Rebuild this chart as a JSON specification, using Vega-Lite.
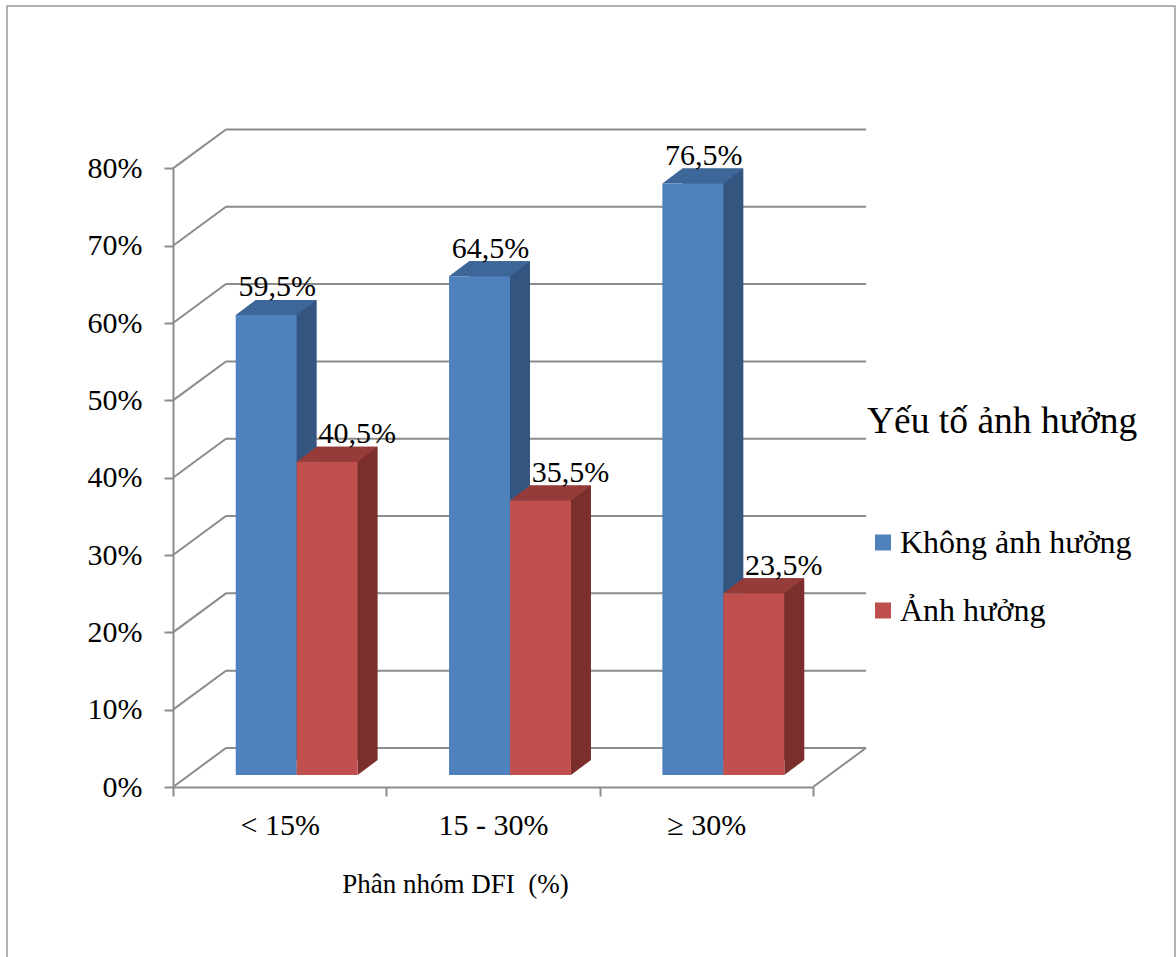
{
  "$schema": "https://vega.github.io/schema/vega-lite/v6.json",
  "width": 1168,
  "height": 951,
  "autosize": {"type": "none"},
  "padding": {"left": 7, "top": 6, "right": 1, "bottom": 0},
  "background": "white",
  "config": {
    "font": "Liberation Serif",
    "view": {"stroke": "#9A9A9A", "strokeWidth": 1.5, "strokeDash": [2119, 1168, 951]},
    "locale": {"number": {"decimal": ",", "thousands": ".", "grouping": [3], "currency": ["", ""]}}
  },
  "datasets": {
    "bars": [
      {"group": "< 15%", "series": "Không ảnh hưởng", "share": 0.595},
      {"group": "< 15%", "series": "Ảnh hưởng", "share": 0.405},
      {"group": "15 - 30%", "series": "Không ảnh hưởng", "share": 0.645},
      {"group": "15 - 30%", "series": "Ảnh hưởng", "share": 0.355},
      {"group": "≥ 30%", "series": "Không ảnh hưởng", "share": 0.765},
      {"group": "≥ 30%", "series": "Ảnh hưởng", "share": 0.235}
    ],
    "ticks": [
      {"pct": 0}, {"pct": 0.1}, {"pct": 0.2}, {"pct": 0.3}, {"pct": 0.4},
      {"pct": 0.5}, {"pct": 0.6}, {"pct": 0.7}, {"pct": 0.8}
    ]
  },
  "resolve": {"scale": {"x": "independent", "y": "independent", "xOffset": "independent"}},
  "layer": [
    {
      "data": {"name": "ticks"},
      "layer": [
        {
          "mark": {"type": "point", "shape": "M0,0L53,-39L693,-39", "size": 4, "filled": false, "stroke": "#8C8C8C", "strokeWidth": 2, "opacity": 1},
          "encoding": {
            "x": {
              "datum": "< 15%", "type": "nominal", "bandPosition": 0,
              "scale": {"domain": ["< 15%", "15 - 30%", "≥ 30%"], "range": [166, 806], "paddingInner": 0, "paddingOuter": 0},
              "axis": {
                "title": "Phân nhóm DFI\u00a0 (%)", "orient": "bottom", "offset": -170,
                "tickBand": "extent", "tickSize": 9, "tickColor": "#8C8C8C", "tickWidth": 2,
                "domainColor": "#8C8C8C", "domainWidth": 2, "grid": false,
                "labelFont": "Liberation Serif", "labelFontSize": 30, "labelColor": "black", "labelAngle": 0,
                "labelBaseline": "alphabetic", "labelPadding": 38,
                "titleFont": "Liberation Serif", "titleFontSize": 27, "titleFontWeight": "normal", "titleColor": "black",
                "titleX": 448, "titleY": 105, "titleAlign": "center", "titleBaseline": "alphabetic"
              }
            },
            "y": {
              "field": "pct", "type": "quantitative",
              "scale": {"domain": [0, 0.8], "range": [781, 162.4], "nice": false, "zero": true},
              "axis": {
                "title": null, "orient": "left", "offset": -166,
                "values": [0, 0.1, 0.2, 0.3, 0.4, 0.5, 0.6, 0.7, 0.8], "format": ".0%",
                "tickSize": 9, "tickColor": "#8C8C8C", "tickWidth": 2,
                "domainColor": "#8C8C8C", "domainWidth": 2, "grid": false,
                "labelFont": "Liberation Serif", "labelFontSize": 30, "labelColor": "black", "labelPadding": 22
              }
            }
          }
        },
        {
          "transform": [{"filter": "datum.pct === 0"}],
          "mark": {"type": "point", "shape": "M0,0L53,-39", "size": 4, "filled": false, "stroke": "#8C8C8C", "strokeWidth": 2, "opacity": 1},
          "encoding": {
            "x": {"datum": "≥ 30%", "type": "nominal", "bandPosition": 1},
            "y": {"field": "pct", "type": "quantitative"}
          }
        }
      ]
    },
    {
      "data": {"name": "bars"},
      "mark": {"type": "bar"},
      "encoding": {
        "x": {
          "field": "group", "type": "nominal",
          "scale": {"domain": ["< 15%", "15 - 30%", "≥ 30%"], "range": [203, 843], "paddingInner": 0, "paddingOuter": 0},
          "axis": null
        },
        "xOffset": {
          "field": "series", "type": "nominal",
          "scale": {"domain": ["Không ảnh hưởng", "Ảnh hưởng"], "paddingInner": 0, "paddingOuter": 0.75}
        },
        "y": {
          "field": "share", "type": "quantitative",
          "scale": {"domain": [0, 0.8], "range": [754, 135.4], "nice": false, "zero": true},
          "axis": null
        },
        "color": {"condition": {"test": "datum.series === 'Ảnh hưởng'", "value": "#7B2F2D"}, "value": "#34557F"}
      }
    },
    {
      "data": {"name": "bars"},
      "encoding": {
        "x": {
          "field": "group", "type": "nominal",
          "scale": {"domain": ["< 15%", "15 - 30%", "≥ 30%"], "range": [183, 823], "paddingInner": 0, "paddingOuter": 0},
          "axis": null
        },
        "xOffset": {
          "field": "series", "type": "nominal",
          "scale": {"domain": ["Không ảnh hưởng", "Ảnh hưởng"], "paddingInner": 0, "paddingOuter": 0.75}
        },
        "y": {
          "field": "share", "type": "quantitative",
          "scale": {"domain": [0, 0.8], "range": [769, 150.4], "nice": false, "zero": true},
          "axis": null
        }
      },
      "layer": [
        {
          "mark": {"type": "point", "shape": "M-30.5,0L30.5,0L50.5,-15L-10.5,-15Z", "size": 4, "filled": true, "opacity": 1, "strokeWidth": 0},
          "encoding": {
            "color": {"condition": {"test": "datum.series === 'Ảnh hưởng'", "value": "#953C3A"}, "value": "#3D6699"}
          }
        },
        {
          "mark": {"type": "point", "shape": "M30.5,-15L30.5,0L50.5,-15Z", "size": 4, "filled": true, "opacity": 1, "strokeWidth": 0},
          "encoding": {
            "y": {"datum": 0, "type": "quantitative"},
            "color": {"condition": {"test": "datum.series === 'Ảnh hưởng'", "value": "#7B2F2D"}, "value": "#34557F"}
          }
        },
        {
          "mark": {"type": "bar"},
          "encoding": {
            "color": {
              "field": "series", "type": "nominal",
              "scale": {"domain": ["Không ảnh hưởng", "Ảnh hưởng"], "range": ["#4F81BD", "#C0504D"]},
              "legend": {
                "title": "Yếu tố ảnh hưởng", "orient": "none", "legendX": 860, "legendY": 397,
                "padding": 0,
                "titleFont": "Liberation Serif", "titleFontSize": 37.5, "titleFontWeight": "normal", "titleColor": "black",
                "titlePadding": 86, "titleLimit": 600,
                "labelFont": "Liberation Serif", "labelFontSize": 32, "labelColor": "black", "labelLimit": 600,
                "symbolType": "square", "symbolSize": 256, "symbolStrokeWidth": 0, "symbolOffset": 0,
                "labelOffset": 1, "rowPadding": 36
              }
            }
          }
        },
        {
          "transform": [{"filter": "datum.series === 'Không ảnh hưởng'"}],
          "mark": {"type": "text", "dx": 11, "dy": -18.5, "baseline": "alphabetic", "font": "Liberation Serif", "fontSize": 30, "color": "black"},
          "encoding": {"text": {"field": "share", "type": "quantitative", "format": ".1%"}}
        },
        {
          "transform": [{"filter": "datum.series === 'Ảnh hưởng'"}],
          "mark": {"type": "text", "dx": 30, "dy": -18.5, "baseline": "alphabetic", "font": "Liberation Serif", "fontSize": 30, "color": "black"},
          "encoding": {"text": {"field": "share", "type": "quantitative", "format": ".1%"}}
        }
      ]
    }
  ]
}
